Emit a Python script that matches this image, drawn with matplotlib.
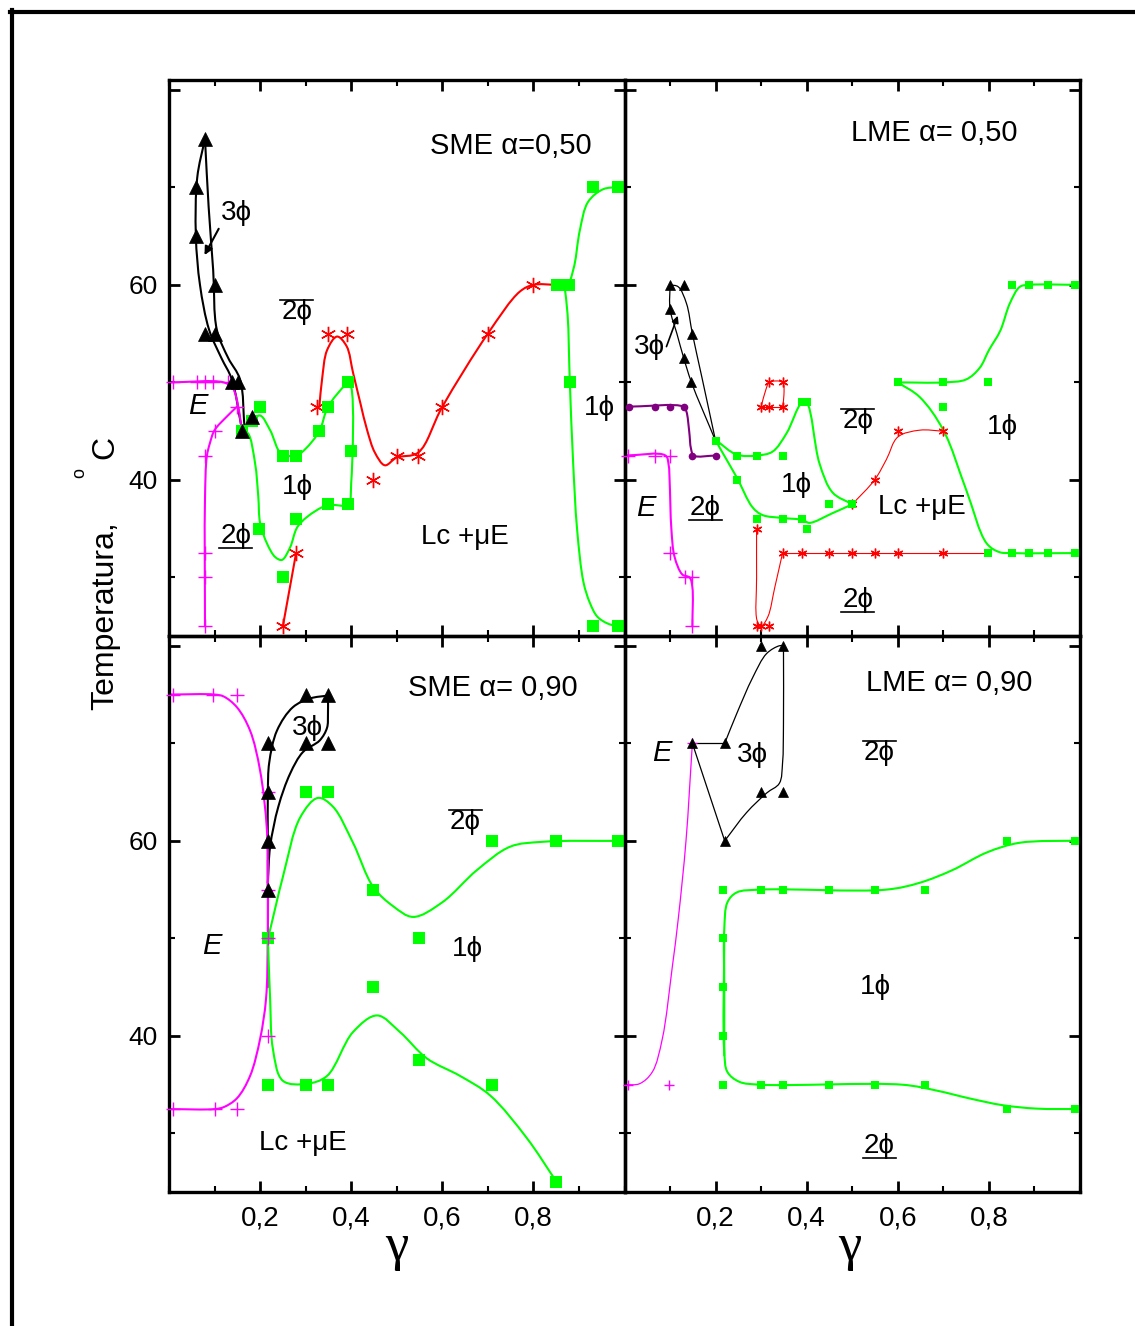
import matplotlib
matplotlib.use("Agg")
import matplotlib.pyplot as plt
import numpy as np
from matplotlib.path import Path
from matplotlib.patches import PathPatch
from matplotlib.lines import Line2D
from matplotlib.ticker import FixedLocator, MultipleLocator

plt.rcParams["font.family"] = ["Liberation Sans", "DejaVu Sans"]

GREEN = "#00ff00"
RED = "#ff0000"
MAG = "#ff00ff"
PURPLE = "#800080"

# ---------------- SME alpha=0,50 (top left) ----------------
s50_tri_x = [0.079, 0.059, 0.059, 0.10, 0.079, 0.10, 0.138, 0.152, 0.16, 0.182]
s50_tri_y = [75, 70, 65, 60, 55, 55, 50, 50, 45, 46.5]
s50_blk1_x = [0.079, 0.062, 0.059, 0.068, 0.088, 0.115, 0.138, 0.16]
s50_blk1_y = [75, 71, 65, 60, 55.4, 52.5, 50.3, 45.2]
s50_blk2_x = [0.079, 0.087, 0.097, 0.105, 0.13, 0.156, 0.166]
s50_blk2_y = [75, 68, 61.5, 55.4, 52.5, 50.3, 45.2]

s50_mag_x = [0.009, 0.061, 0.079, 0.097, 0.13, 0.149, 0.10, 0.079, 0.079, 0.079, 0.079]
s50_mag_y = [50, 50, 50, 50, 50, 47.5, 45, 42.5, 32.5, 30, 25]
s50_magc1_x = [0.0, 0.12, 0.14, 0.152, 0.16]
s50_magc1_y = [50, 50, 49.4, 47.5, 45]
s50_magc2_x = [0.079, 0.079, 0.083, 0.09, 0.10, 0.127, 0.149]
s50_magc2_y = [25, 38, 42.4, 43.8, 45.1, 46.5, 47.5]

s50_sq_x = [0.16, 0.182, 0.20, 0.25, 0.279, 0.33, 0.349, 0.393, 0.40, 0.393, 0.349,
            0.279, 0.198, 0.25, 0.852, 0.878, 0.88, 0.93, 0.986, 0.93, 0.986]
s50_sq_y = [45, 46, 47.5, 42.5, 42.5, 45, 47.5, 50, 43, 37.5, 37.5,
            36, 35, 30, 60, 60, 50, 70, 70, 25, 25]
s50_grn1_x = [0.16, 0.173, 0.189, 0.196, 0.20, 0.215, 0.233, 0.248, 0.266, 0.281, 0.303,
              0.347, 0.393, 0.40, 0.40, 0.393, 0.386, 0.349, 0.33, 0.30, 0.283, 0.248,
              0.222, 0.20, 0.18, 0.16]
s50_grn1_y = [45, 44.8, 41.7, 38.3, 35.6, 33.5, 32.1, 31.8, 33.1, 35.1, 36.2,
              37.4, 37.5, 39.7, 49.5, 50, 49.7, 47.5, 45, 43.2, 42.6, 42.6,
              45.1, 46.6, 46, 45]
s50_grn2_x = [0.878, 0.89, 0.902, 0.92, 0.953, 0.986, 1.0]
s50_grn2_y = [60, 62, 65.6, 68.5, 69.8, 70, 70]
s50_grn3_x = [0.868, 0.875, 0.88, 0.887, 0.896, 0.91, 0.924, 0.94, 0.962, 0.986, 1.0]
s50_grn3_y = [60, 57, 50, 42, 34.9, 29.5, 27.4, 26, 25.3, 25, 25]

s50_ast_x = [0.25, 0.279, 0.325, 0.349, 0.39, 0.448, 0.50, 0.547, 0.60, 0.70, 0.80]
s50_ast_y = [25, 32.5, 47.5, 55, 55, 40, 42.5, 42.5, 47.5, 55, 60]
s50_red1_x = [0.25, 0.279]
s50_red1_y = [25, 32.5]
s50_red2_x = [0.33, 0.336, 0.347, 0.369, 0.39, 0.404, 0.42, 0.435, 0.452, 0.474, 0.50,
              0.547, 0.60, 0.70, 0.77, 0.80, 0.852]
s50_red2_y = [47.5, 50.3, 53.3, 54.7, 53.7, 51, 47.9, 45.1, 42.8, 41.5, 42.3,
              42.8, 47.5, 55, 59.3, 60, 60]

# ---------------- LME alpha=0,50 (top right) ----------------
l50_tri_x = [0.10, 0.13, 0.10, 0.149, 0.13, 0.147]
l50_tri_y = [60, 60, 57.5, 55, 52.5, 50]
l50_blk1_x = [0.10, 0.10, 0.115, 0.13, 0.147, 0.20]
l50_blk1_y = [60, 57.5, 55, 52.5, 50, 44]
l50_blk2_x = [0.10, 0.118, 0.136, 0.149, 0.17, 0.20]
l50_blk2_y = [60, 59.8, 58.1, 55, 50.5, 44]

l50_dot_x = [0.009, 0.068, 0.099, 0.13, 0.149, 0.20]
l50_dot_y = [47.5, 47.5, 47.5, 47.5, 42.5, 42.5]
l50_pur_x = [0.0, 0.13, 0.136, 0.142, 0.146, 0.152, 0.20]
l50_pur_y = [47.5, 47.5, 47.0, 45.0, 43.2, 42.5, 42.5]

l50_mag_x = [0.007, 0.068, 0.099, 0.099, 0.132, 0.149, 0.149]
l50_mag_y = [42.5, 42.5, 42.5, 32.5, 30, 30, 25]
l50_magc_x = [0.0, 0.09, 0.097, 0.099, 0.103, 0.11, 0.127, 0.143, 0.149, 0.149]
l50_magc_y = [42.5, 42.5, 41.5, 40, 34.9, 32.1, 30.3, 30, 29, 25]

l50_sq_x = [0.20, 0.248, 0.29, 0.347, 0.39, 0.40, 0.248, 0.29, 0.347, 0.39, 0.40, 0.45,
            0.50, 0.60, 0.70, 0.797, 0.70, 0.797, 0.85, 0.889, 0.929, 0.988,
            0.85, 0.889, 0.929, 0.988]
l50_sq_y = [44, 42.5, 42.5, 42.5, 48, 48, 40, 36, 36, 36, 35, 37.5,
            37.5, 50, 50, 50, 47.5, 32.5, 32.5, 32.5, 32.5, 32.5,
            60, 60, 60, 60]
l50_grn1_x = [0.20, 0.246, 0.29, 0.325, 0.356, 0.389, 0.40, 0.428, 0.457, 0.50]
l50_grn1_y = [44.1, 42.6, 42.5, 42.9, 44.8, 47.9, 47.9, 41.7, 38.7, 37.5]
l50_grn2_x = [0.20, 0.209, 0.246, 0.281, 0.303, 0.347, 0.391, 0.406, 0.457, 0.50]
l50_grn2_y = [44.1, 43.3, 40.3, 37.2, 36.4, 36.1, 35.9, 35.6, 36.6, 37.5]
l50_grn3_x = [0.60, 0.70, 0.75, 0.78, 0.80, 0.825, 0.846, 0.868, 0.889, 1.0]
l50_grn3_y = [50, 50, 50.3, 51.5, 53.3, 55.3, 58.1, 59.8, 60, 60]
l50_grn4_x = [0.60, 0.648, 0.70, 0.75, 0.795, 0.823, 0.85, 1.0]
l50_grn4_y = [50, 48.5, 45.1, 39, 33.5, 32.6, 32.5, 32.5]

l50_ast_x = [0.29, 0.29, 0.30, 0.318, 0.347, 0.39, 0.45, 0.50, 0.549, 0.60, 0.70,
             0.30, 0.318, 0.347, 0.318, 0.347, 0.50, 0.549, 0.60, 0.70]
l50_ast_y = [35, 25, 25, 25, 32.5, 32.5, 32.5, 32.5, 32.5, 32.5, 32.5,
             47.5, 47.5, 47.5, 50, 50, 37.5, 40, 45, 45]
l50_red1_x = [0.29, 0.29, 0.291, 0.30, 0.315, 0.33, 0.347]
l50_red1_y = [35, 30, 25.6, 25, 26, 29, 32.5]
l50_red2_x = [0.347, 0.797]
l50_red2_y = [32.5, 32.5]
l50_red3_x = [0.30, 0.31, 0.318, 0.347, 0.35, 0.347]
l50_red3_y = [47.5, 49.2, 50, 50, 48.7, 47.5]
l50_red4_x = [0.30, 0.347]
l50_red4_y = [47.5, 47.5]
l50_red5_x = [0.50, 0.549, 0.575, 0.60, 0.648, 0.70]
l50_red5_y = [37.5, 40, 42.1, 44.4, 45.1, 45]

# ---------------- SME alpha=0,90 (bottom left) ----------------
s90_tri_x = [0.217, 0.30, 0.349, 0.30, 0.349, 0.217, 0.217, 0.217]
s90_tri_y = [70, 75, 75, 70, 70, 65, 60, 55]
s90_blk1_x = [0.217, 0.217, 0.217, 0.22, 0.237, 0.272, 0.31, 0.349]
s90_blk1_y = [55, 60, 65, 68, 71.3, 73.7, 74.6, 74.9]
s90_blk2_x = [0.349, 0.349, 0.347, 0.331, 0.294, 0.266, 0.24, 0.222, 0.217]
s90_blk2_y = [74.9, 73, 71.6, 70.3, 69.1, 66.9, 63.5, 59.4, 55.7]

s90_mag_x = [0.009, 0.097, 0.149, 0.217, 0.217, 0.217, 0.217, 0.009, 0.10, 0.149]
s90_mag_y = [75, 75, 75, 65, 55, 50, 40, 32.5, 32.5, 32.5]
s90_magc1_x = [0.0, 0.10, 0.12, 0.149, 0.178, 0.20, 0.215, 0.217, 0.217]
s90_magc1_y = [75, 75, 74.8, 73.7, 71.3, 67.2, 61.1, 55, 45]
s90_magc2_x = [0.0, 0.10, 0.12, 0.149, 0.178, 0.20, 0.213, 0.217, 0.217]
s90_magc2_y = [32.5, 32.5, 32.7, 33.6, 35.9, 39.7, 43.8, 50, 58]

s90_sq_x = [0.30, 0.349, 0.448, 0.709, 0.85, 0.986, 0.217, 0.549, 0.448, 0.549,
            0.217, 0.30, 0.349, 0.709, 0.85]
s90_sq_y = [65, 65, 55, 60, 60, 60, 50, 50, 45, 37.5,
            35, 35, 35, 35, 25]
s90_grn1_x = [0.217, 0.222, 0.25, 0.288, 0.327, 0.36, 0.404, 0.448, 0.492, 0.536,
              0.60, 0.676, 0.749, 0.82, 1.0]
s90_grn1_y = [50, 50.9, 56.3, 62.4, 64.4, 63.5, 59.8, 55.3, 53.3, 52.2,
              53.7, 57, 59.4, 59.9, 60]
s90_grn2_x = [0.217, 0.222, 0.228, 0.25, 0.303, 0.347, 0.404, 0.457, 0.507, 0.566,
              0.639, 0.705, 0.786, 0.85]
s90_grn2_y = [50, 43.8, 38.7, 35.4, 35.1, 35.9, 40.4, 42.1, 40.4, 37.7,
              35.9, 33.9, 29.5, 25.1]

# ---------------- LME alpha=0,90 (bottom right) ----------------
l90_tri_x = [0.30, 0.349, 0.149, 0.22, 0.30, 0.349, 0.22]
l90_tri_y = [80, 80, 70, 70, 65, 65, 60]
l90_blk1_x = [0.149, 0.22]
l90_blk1_y = [70, 70]
l90_blk2_x = [0.22, 0.246, 0.281, 0.312, 0.34, 0.349]
l90_blk2_y = [70, 73, 76.7, 79.2, 80, 80]
l90_blk3_x = [0.349, 0.349, 0.347, 0.34, 0.312, 0.268, 0.22]
l90_blk3_y = [80, 72, 68, 65.9, 64.9, 62.9, 60]
l90_blk4_x = [0.22, 0.149]
l90_blk4_y = [60, 70]

l90_mag_x = [0.149, 0.007, 0.097]
l90_mag_y = [70, 35, 35]
l90_magc_x = [0.0, 0.033, 0.061, 0.083, 0.105, 0.118, 0.135, 0.149]
l90_magc_y = [35, 35.1, 36.3, 39.7, 47.1, 52, 60, 70]

l90_sq_x = [0.217, 0.217, 0.217, 0.217, 0.217, 0.299, 0.349, 0.448, 0.549, 0.659,
            0.299, 0.349, 0.448, 0.549, 0.659, 0.839, 0.99, 0.839, 0.99]
l90_sq_y = [55, 50, 45, 40, 35, 55, 55, 55, 55, 55,
            35, 35, 35, 35, 35, 60, 60, 32.5, 32.5]
l90_grn1_x = [0.219, 0.219, 0.219, 0.226, 0.246, 0.299, 0.575, 0.648, 0.72, 0.795,
              0.867, 0.99, 1.0]
l90_grn1_y = [38, 45, 50.9, 53.7, 54.7, 55, 55, 55.7, 57, 58.8,
              59.8, 60, 60]
l90_grn2_x = [0.219, 0.219, 0.226, 0.252, 0.299, 0.61, 0.685, 0.757, 0.83, 0.904, 1.0]
l90_grn2_y = [50, 38.4, 36.3, 35.3, 35, 35, 34.4, 33.6, 32.9, 32.55, 32.5]

X_TICKS = [0.2, 0.4, 0.6, 0.8]
X_TICKLABELS = ["0,2", "0,4", "0,6", "0,8"]
Y_TICKS = [40, 60, 80]
Y_TICKLABELS = ["40", "60", ""]


def smooth(ax, xs, ys, color, lw, zorder=2):
    # centripetal Catmull-Rom through the knots, drawn as cubic Bezier path
    pts = ax.transData.transform(np.column_stack([xs, ys]))
    n = len(pts)
    if n == 2:
        verts = list(pts)
        codes = [Path.MOVETO, Path.LINETO]
    else:
        ext = np.vstack([2 * pts[0] - pts[1], pts, 2 * pts[-1] - pts[-2]])
        verts = [pts[0]]
        codes = [Path.MOVETO]
        for i in range(n - 1):
            p0, p1, p2, p3 = ext[i], ext[i + 1], ext[i + 2], ext[i + 3]
            d1 = max(np.hypot(*(p1 - p0)) ** 0.5, 1e-6)
            d2 = max(np.hypot(*(p2 - p1)) ** 0.5, 1e-6)
            d3 = max(np.hypot(*(p3 - p2)) ** 0.5, 1e-6)
            b1 = (d1 ** 2 * p2 - d2 ** 2 * p0 + (2 * d1 ** 2 + 3 * d1 * d2 + d2 ** 2) * p1) / (3 * d1 * (d1 + d2))
            b2 = (d3 ** 2 * p1 - d2 ** 2 * p3 + (2 * d3 ** 2 + 3 * d3 * d2 + d2 ** 2) * p2) / (3 * d3 * (d3 + d2))
            verts += [b1, b2, p2]
            codes += [Path.CURVE4] * 3
    verts = ax.transData.inverted().transform(np.array(verts))
    ax.add_patch(PathPatch(Path(verts, codes), fill=False, edgecolor=color,
                           lw=lw, zorder=zorder, capstyle="round", joinstyle="round"))


def marks(ax, xs, ys, kind, size):
    if kind == "sq":
        ax.plot(xs, ys, ls="none", marker="s", ms=size, mfc=GREEN, mec=GREEN, mew=0,
                zorder=3, clip_on=False)
    elif kind == "tri":
        ax.plot(xs, ys, ls="none", marker="^", ms=size, mfc="k", mec="k", mew=0.5,
                zorder=4, clip_on=False)
    elif kind == "ast":
        ax.plot(xs, ys, ls="none", marker=(6, 2, 0), ms=size, mec=RED, mew=1.0,
                zorder=3, clip_on=False)
    elif kind == "plus":
        ax.plot(xs, ys, ls="none", marker="+", ms=size, mec=MAG, mew=1.0,
                zorder=3, clip_on=False)
    elif kind == "dot":
        ax.plot(xs, ys, ls="none", marker="o", ms=size, mfc=PURPLE, mec=PURPLE, mew=0,
                zorder=3, clip_on=False)


decorated = []


def label(ax, x, y, s, size=20, deco=None, style="normal"):
    t = ax.text(x, y, s, fontsize=size, ha="center", va="center", style=style,
                family=["Liberation Sans", "DejaVu Sans"], zorder=5)
    if deco:
        decorated.append((t, deco))
    return t


fig = plt.figure(figsize=(11.35, 13.26), dpi=100)
W, H = 1135.0, 1326.0
ax_l = 169 / W
ax_r = 624.5 / W
ax_w = 455.5 / W
ax_t = 1 - 636 / H
ax_b = 1 - 1192 / H
ax_h = 556 / H

axes = {
    "tl": fig.add_axes([ax_l, ax_t, ax_w, ax_h]),
    "tr": fig.add_axes([ax_r, ax_t, ax_w, ax_h]),
    "bl": fig.add_axes([ax_l, ax_b, ax_w, ax_h]),
    "br": fig.add_axes([ax_r, ax_b, ax_w, ax_h]),
}

for key, ax in axes.items():
    ax.set_xlim(0, 1.0)
    ax.set_ylim(24, 81)
    ax.set_facecolor("none")
    for sp in ax.spines.values():
        sp.set_linewidth(2.4)
    ax.xaxis.set_major_locator(FixedLocator(X_TICKS))
    ax.xaxis.set_minor_locator(MultipleLocator(0.1))
    ax.yaxis.set_major_locator(FixedLocator(Y_TICKS))
    ax.yaxis.set_minor_locator(FixedLocator([30, 50, 70]))
    ax.tick_params(which="both", direction="in", top=True, right=True)
    ax.tick_params(which="major", length=8, width=2.0)
    ax.tick_params(which="minor", length=4, width=1.5)
    ax.tick_params(axis="y", labelsize=19, pad=8)
    ax.tick_params(axis="x", labelsize=20, pad=10)
    if key in ("tl", "bl"):
        ax.set_yticklabels(Y_TICKLABELS)
    else:
        ax.tick_params(labelleft=False)
    if key in ("bl", "br"):
        ax.set_xticklabels(X_TICKLABELS)
        for tl in ax.get_xticklabels():
            tl.set_family(["Liberation Sans Narrow", "Liberation Sans"])
    else:
        ax.tick_params(labelbottom=False)

# ---- top left ----
ax = axes["tl"]
smooth(ax, s50_blk1_x, s50_blk1_y, "k", 1.5)
smooth(ax, s50_blk2_x, s50_blk2_y, "k", 1.5)
smooth(ax, s50_magc1_x, s50_magc1_y, MAG, 1.5)
smooth(ax, s50_magc2_x, s50_magc2_y, MAG, 1.5)
smooth(ax, s50_grn1_x, s50_grn1_y, GREEN, 1.5)
smooth(ax, s50_grn2_x, s50_grn2_y, GREEN, 1.5)
smooth(ax, s50_grn3_x, s50_grn3_y, GREEN, 1.5)
smooth(ax, s50_red1_x, s50_red1_y, RED, 1.5)
smooth(ax, s50_red2_x, s50_red2_y, RED, 1.5)
marks(ax, s50_mag_x, s50_mag_y, "plus", 10)
marks(ax, s50_ast_x, s50_ast_y, "ast", 11)
marks(ax, s50_sq_x, s50_sq_y, "sq", 8.5)
marks(ax, s50_tri_x, s50_tri_y, "tri", 10)
ax.annotate("", xy=(0.075, 62.8), xytext=(0.112, 66),
            arrowprops=dict(arrowstyle="-|>", color="k", lw=1.5, mutation_scale=12))
label(ax, 0.751, 74.2, "SME α=0,50", 21)
label(ax, 0.149, 67.4, "3ϕ")
label(ax, 0.281, 57.2, "2ϕ", deco="over")
label(ax, 0.064, 47.6, "E", 21, style="italic")
label(ax, 0.283, 39.3, "1ϕ")
label(ax, 0.147, 34.3, "2ϕ", deco="under")
label(ax, 0.65, 34.2, "Lc +μE")
label(ax, 0.944, 47.4, "1ϕ")

# ---- top right ----
ax = axes["tr"]
smooth(ax, l50_blk1_x, l50_blk1_y, "k", 0.9)
smooth(ax, l50_blk2_x, l50_blk2_y, "k", 0.9)
smooth(ax, l50_pur_x, l50_pur_y, PURPLE, 1.5)
smooth(ax, l50_magc_x, l50_magc_y, MAG, 1.5)
smooth(ax, l50_grn1_x, l50_grn1_y, GREEN, 1.5)
smooth(ax, l50_grn2_x, l50_grn2_y, GREEN, 1.5)
smooth(ax, l50_grn3_x, l50_grn3_y, GREEN, 1.5)
smooth(ax, l50_grn4_x, l50_grn4_y, GREEN, 1.5)
smooth(ax, l50_red1_x, l50_red1_y, RED, 0.8)
smooth(ax, l50_red2_x, l50_red2_y, RED, 0.8)
smooth(ax, l50_red3_x, l50_red3_y, RED, 0.8)
smooth(ax, l50_red4_x, l50_red4_y, RED, 0.8)
smooth(ax, l50_red5_x, l50_red5_y, RED, 0.8)
marks(ax, l50_mag_x, l50_mag_y, "plus", 10)
marks(ax, l50_dot_x, l50_dot_y, "dot", 5.5)
marks(ax, l50_ast_x, l50_ast_y, "ast", 7)
marks(ax, l50_sq_x, l50_sq_y, "sq", 5.5)
marks(ax, l50_tri_x, l50_tri_y, "tri", 6.5)
ax.annotate("", xy=(0.119, 57.1), xytext=(0.09, 53.4),
            arrowprops=dict(arrowstyle="-|>", color="k", lw=1.2, mutation_scale=10))
label(ax, 0.681, 75.6, "LME α= 0,50", 21)
label(ax, 0.055, 53.6, "3ϕ")
label(ax, 0.512, 46.0, "2ϕ", deco="over")
label(ax, 0.378, 39.5, "1ϕ")
label(ax, 0.83, 45.4, "1ϕ")
label(ax, 0.046, 37.1, "E", 21, style="italic")
label(ax, 0.178, 37.1, "2ϕ", deco="under")
label(ax, 0.652, 37.2, "Lc +μE")
label(ax, 0.512, 27.7, "2ϕ", deco="under")

# ---- bottom left ----
ax = axes["bl"]
smooth(ax, s90_blk1_x, s90_blk1_y, "k", 1.5)
smooth(ax, s90_blk2_x, s90_blk2_y, "k", 1.5)
smooth(ax, s90_magc1_x, s90_magc1_y, MAG, 1.5)
smooth(ax, s90_magc2_x, s90_magc2_y, MAG, 1.5)
smooth(ax, s90_grn1_x, s90_grn1_y, GREEN, 1.5)
smooth(ax, s90_grn2_x, s90_grn2_y, GREEN, 1.5)
marks(ax, s90_sq_x, s90_sq_y, "sq", 8.5)
marks(ax, s90_tri_x, s90_tri_y, "tri", 10)
marks(ax, s90_mag_x, s90_mag_y, "plus", 10)
label(ax, 0.711, 75.7, "SME α= 0,90", 21)
label(ax, 0.303, 71.6, "3ϕ")
label(ax, 0.65, 61.9, "2ϕ", deco="over")
label(ax, 0.094, 49.2, "E", 21, style="italic")
label(ax, 0.656, 48.9, "1ϕ")
label(ax, 0.294, 29.0, "Lc +μE")

# ---- bottom right ----
ax = axes["br"]
smooth(ax, l90_blk1_x, l90_blk1_y, "k", 0.9)
smooth(ax, l90_blk2_x, l90_blk2_y, "k", 0.9)
smooth(ax, l90_blk3_x, l90_blk3_y, "k", 0.9)
smooth(ax, l90_blk4_x, l90_blk4_y, "k", 0.9)
smooth(ax, l90_magc_x, l90_magc_y, MAG, 0.9)
smooth(ax, l90_grn1_x, l90_grn1_y, GREEN, 1.5)
smooth(ax, l90_grn2_x, l90_grn2_y, GREEN, 1.5)
marks(ax, l90_sq_x, l90_sq_y, "sq", 5.5)
marks(ax, l90_tri_x, l90_tri_y, "tri", 7)
marks(ax, l90_mag_x, l90_mag_y, "plus", 7)
label(ax, 0.713, 76.2, "LME α= 0,90", 21)
label(ax, 0.081, 69.0, "E", 21, style="italic")
label(ax, 0.281, 68.8, "3ϕ")
label(ax, 0.56, 69.0, "2ϕ", deco="over")
label(ax, 0.551, 45.0, "1ϕ")
label(ax, 0.56, 28.7, "2ϕ", deco="under")

# axis titles
for cx in (397, 850):
    fig.text(cx / W, 1 - 1247 / H, "γ", fontsize=38, ha="center", va="center",
             family=["Liberation Serif", "DejaVu Serif"])
fig.text(105 / W, 1 - 616 / H, "Temperatura,", fontsize=23, rotation=90,
         ha="center", va="center")
fig.text(80 / W, 1 - 473 / H, "o", fontsize=13, rotation=90, ha="center", va="center")
fig.text(105 / W, 1 - 447 / H, "C", fontsize=23, rotation=90, ha="center", va="center")

# outer frame (top and left edges)
fig.add_artist(Line2D([10 / W, 1.0], [1 - 12 / H, 1 - 12 / H], color="k", lw=3,
                      transform=fig.transFigure))
fig.add_artist(Line2D([12 / W, 12 / W], [1 - 10 / H, 0.0], color="k", lw=3,
                      transform=fig.transFigure))

# over/underlines for the 2-phase labels
fig.canvas.draw()
renderer = fig.canvas.get_renderer()
inv = fig.transFigure.inverted()
for t, deco in decorated:
    bb = t.get_window_extent(renderer)
    yy = bb.y1 - 1 if deco == "over" else bb.y0 + 1
    (x0, y0), (x1, _) = inv.transform([(bb.x0 - 1, yy), (bb.x1 + 1, yy)])
    fig.add_artist(Line2D([x0, x1], [y0, y0], color="k", lw=1.2,
                          transform=fig.transFigure))

fig.savefig("out.png", dpi=100)
